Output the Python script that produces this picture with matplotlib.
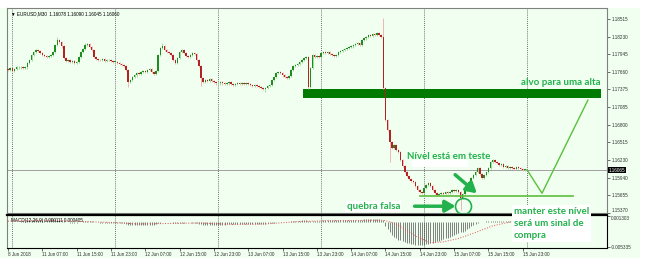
import numpy as np
import matplotlib
matplotlib.use('Agg')
import matplotlib.pyplot as plt
from matplotlib.patches import Rectangle

# EURUSD M30 closes, 8 Jun 23:00 -> 15 Jun 23:30
first_open = 1.1770
closes = [
    1.1769, 1.1772, 1.1767, 1.1770, 1.1773, 1.1773,
    1.1773, 1.1772, 1.1773, 1.1780, 1.1785,
    1.1793, 1.1798, 1.1801, 1.1799, 1.1796,
    1.1793, 1.1791, 1.1790, 1.1791, 1.1793,
    1.1798, 1.1809, 1.1817,
    1.1814, 1.1807, 1.1788,
    1.1783, 1.1785, 1.1782, 1.1783, 1.1780, 1.1782,
    1.1790, 1.1798, 1.1803, 1.1809,
    1.1811, 1.1806, 1.1801,
    1.1790, 1.1786, 1.1785,
    1.1785, 1.1786, 1.1783, 1.1785, 1.1785, 1.1783, 1.1782, 1.1782,
    1.1780, 1.1778, 1.1777, 1.1775, 1.1769,
    1.1749, 1.1752,
    1.1757, 1.1760, 1.1764, 1.1762, 1.1765,
    1.1767, 1.1765, 1.1769, 1.1770, 1.1765, 1.1762, 1.1767,
    1.1793, 1.1804, 1.1807,
    1.1801, 1.1798, 1.1796, 1.1793, 1.1785,
    1.1780, 1.1788, 1.1798,
    1.1801, 1.1796, 1.1791, 1.1790,
    1.1793, 1.1796, 1.1795,
    1.1785, 1.1775, 1.1756,
    1.1749, 1.1752, 1.1751, 1.1754,
    1.1751, 1.1749, 1.1747, 1.1747, 1.1749, 1.1747,
    1.1746, 1.1747, 1.1749, 1.1746, 1.1744, 1.1746, 1.1747, 1.1746, 1.1747, 1.1746,
    1.1747, 1.1746, 1.1744, 1.1743, 1.1744,
    1.1743, 1.1741, 1.1739, 1.1738, 1.1739,
    1.1743, 1.1744, 1.1752, 1.1757,
    1.1764, 1.1765, 1.1764, 1.1760, 1.1757,
    1.1756, 1.1759, 1.1769, 1.1775,
    1.1777, 1.1778, 1.1782, 1.1785, 1.1788, 1.1790,
    1.1741,
    1.1772, 1.1793, 1.1790,
    1.1791, 1.1790, 1.1796, 1.1798, 1.1796, 1.1798,
    1.1795, 1.1793, 1.1791, 1.1793, 1.1798, 1.1799,
    1.1801, 1.1803, 1.1804, 1.1806, 1.1807,
    1.1809, 1.1811, 1.1812, 1.1809, 1.1817,
    1.1820, 1.1822, 1.1825, 1.1824, 1.1827,
    1.1825, 1.1829, 1.1825, 1.1822,
    1.1739,
    1.1688, 1.1671, 1.1652,
    1.1642, 1.1647, 1.1639, 1.1636,
    1.1623, 1.1613, 1.1603, 1.1597,
    1.1592, 1.1589, 1.1587, 1.1581,
    1.1574, 1.1571, 1.1569,
    1.1577, 1.1582, 1.1586, 1.1581,
    1.1574, 1.1569, 1.1566, 1.1568,
    1.1569, 1.1568, 1.1571, 1.1569, 1.1571,
    1.1574, 1.1573, 1.1574,
    1.1571, 1.1561, 1.1568,
    1.1574, 1.1581, 1.1587, 1.1594,
    1.1598, 1.1603, 1.1610,
    1.1600, 1.1594, 1.1598,
    1.1603, 1.1610, 1.1620, 1.1623,
    1.1620, 1.1618, 1.1615, 1.1616,
    1.1611, 1.1613, 1.1610, 1.1611,
    1.1610, 1.1608, 1.1611, 1.1610,
    1.1608, 1.1607, 1.1607,
]
# long shadows that stick out
spike_high = {23: 1.1822, 36: 1.1813, 72: 1.1812, 175: 1.1853}
spike_low = {56: 1.1741, 90: 1.1743, 120: 1.1733, 140: 1.1738, 178: 1.1620, 211: 1.1542}

# MACD main (x1e-4) per bar, and signal line points
macd_hist = [
    1, 1, 0, 0, 1, 1, 2, 2, 3, 3, 4,
    4, 5, 5, 5, 4, 4, 4, 5, 5, 6, 6, 6, 5, 4, 3,
    2, 1, 0, -1, -1, -1, -1, 0, 1, 2, 3, 3, 3, 2, 1,
    0, 0, -1, -1, -1, -1, -1, -1, -2, -2, -2, -2, -2, -3, -4, -6, -7, -7, -7, -7,
    -7, -7, -7, -7, -6, -6, -6, -6, -5, -3, -1, 0, 1, 1, 1, 0, -1, -2, -2, -2,
    -1, -1, 0, 0, 0, -1, -2, -3, -4, -5, -6, -6, -6, -6, -6, -6, -6, -6, -6, -6,
    -6, -5, -5, -5, -5, -4, -4, -4, -4, -4, -4, -4, -4, -4, -4, -4, -4, -4, -4, -4,
    -3, -3, -2, -1, 0, 0, 1, 1, 1, 1, 1, 2, 2, 3, 3, 3, 4, 4, 4, 3,
    3, 3, 3, 3, 3, 3, 4, 4, 4, 4, 4, 4, 4, 4, 4, 5, 5, 5, 5, 5, 5, 5, 5, 5, 5,
    6, 6, 6, 6, 6, 6, 6, 6, 5, 4,
    -8, -15, -22, -27, -31, -34, -37, -39, -41, -43,
    -44, -45, -46, -47, -48, -48, -49, -49, -48, -47,
    -46, -45, -44, -43, -41, -40, -38, -36, -34, -33,
    -31, -29, -27, -25, -23, -21, -20, -18, -15, -12,
    -9, -6, -4, -2, 0, 1, 1, 2, 2, 3,
    3, 3, 3, 3, 2, 2, 2, 2, 2, 1, 1, 1, 1, 1, 1, 1,
]
signal_bar = [0, 20, 35, 50, 60, 75, 90, 105, 120, 135, 150, 175, 180, 185, 190, 197, 203, 210, 218, 226, 234, 241]
signal_val = [2, 4, 1, -1, -4, -3, -2, -5, -4, 1, 3, 4, -2, -15, -30, -44, -42, -35, -22, -8, 0, 2]

price_ticks = [1.18515, 1.18230, 1.17945, 1.17660, 1.17375, 1.17085,
               1.16800, 1.16515, 1.16230, 1.15940, 1.15655, 1.15370]
last_price = 1.16065
day_starts = [2, 50, 98, 146, 194, 242]
date_pos = [0, 16, 32, 48, 64, 80, 96, 112, 128, 144, 160, 176, 192, 208, 224, 240]
date_labels = ['8 Jun 2018', '11 Jun 07:00', '11 Jun 15:00', '11 Jun 23:00',
               '12 Jun 07:00', '12 Jun 15:00', '12 Jun 23:00', '13 Jun 07:00',
               '13 Jun 15:00', '13 Jun 23:00', '14 Jun 07:00', '14 Jun 15:00',
               '14 Jun 23:00', '15 Jun 07:00', '15 Jun 15:00', '15 Jun 23:00']

BG = '#f0fff0'
GREEN = '#22b14c'
small = dict(fontsize=3.3, family='Liberation Sans')
note = dict(fontsize=7, family='Lato', fontweight='bold', color=GREEN)

fig = plt.figure(figsize=(6.55, 2.65), dpi=100)
fig.patch.set_facecolor('white')
fig.add_artist(Rectangle((0, 7/265), 640/655, 250/265, transform=fig.transFigure,
                         facecolor=BG, edgecolor='none', zorder=-5))

ax = fig.add_axes([7/655, 52/265, 600/655, 205/265])
mx = fig.add_axes([7/655, 17/265, 600/655, 33/265])
for a in (ax, mx):
    a.set_facecolor(BG)
    a.set_xlim(-0.47, 279.3)
    for d in day_starts:
        a.axvline(d, color='#404040', ls=(0, (1, 1.5)), lw=0.6, zorder=1)

# candles
c = np.array(closes)
o = np.array([first_open] + closes[:-1])
x = np.arange(len(c))
hi = np.maximum(o, c) + 0.00018
lo = np.minimum(o, c) - 0.00018
for k, v in spike_high.items():
    hi[k] = v
for k, v in spike_low.items():
    lo[k] = v
up = c >= o
body_b = np.minimum(o, c)
body_h = np.maximum(np.abs(c - o), 0.00008)
ax.vlines(x[up], lo[up], hi[up], color='#94d494', lw=0.6, zorder=3)
ax.vlines(x[~up], lo[~up], hi[~up], color='#f2aaaa', lw=0.6, zorder=3)
ax.bar(x[up], body_h[up], bottom=body_b[up], width=0.7, color='#1e8c1e', lw=0, zorder=4)
ax.bar(x[~up], body_h[~up], bottom=body_b[~up], width=0.7, color='#b22222', lw=0, zorder=4)

ax.set_ylim(1.15370, 1.18693)
ax.axhline(last_price, color='#a0a0a0', lw=0.7, zorder=2)
ax.yaxis.tick_right()
ax.set_yticks(price_ticks)
ax.set_yticklabels(['%.5f' % p for p in price_ticks], **small)
ax.get_yticklabels()[-1].set_va('bottom')
ax.tick_params(axis='y', length=2, width=0.5, pad=1.5, colors='#303030')
ax.tick_params(axis='x', bottom=False, labelbottom=False)
for s in ax.spines.values():
    s.set_color('#808080')
    s.set_linewidth(0.8)
ax.text(1.003, last_price, '1.16065', transform=ax.get_yaxis_transform(), color='white',
        va='center', ha='left', clip_on=False, zorder=10,
        bbox=dict(boxstyle='square,pad=0.15', fc='black', ec='none'), **small)
ax.text(0.006, 0.985, '\u25bc EURUSD,M30  1.16078 1.16090 1.16045 1.16060',
        transform=ax.transAxes, va='top', **small)

# annotations
ax.add_patch(Rectangle((137.5, 1.1723), 139, 0.0015, facecolor='#007a00', edgecolor='none', zorder=2))
ax.text(239.2, 1.1749, 'alvo para uma alta', va='center', ha='left', zorder=8, **note)
ax.add_patch(Rectangle((188.3, 1.1611), 26, 0.0012, facecolor='white', edgecolor='none', zorder=6))
ax.text(186, 1.1629, 'Nível está em teste', va='center', ha='left', zorder=8, **note)
ax.text(158, 1.1548, 'quebra falsa', va='center', ha='left', zorder=8,
        bbox=dict(boxstyle='square,pad=0.1', fc='white', ec='none'), **note)
ax.annotate('', xy=(210, 1.1548), xytext=(188.3, 1.1548), zorder=8,
            arrowprops=dict(arrowstyle='-|>,head_length=0.6,head_width=0.35', color=GREEN, lw=2.5))
ax.plot([212.1], [1.1548], marker='o', ms=11.5, mfc='none', mec=GREEN, mew=1.2, zorder=8)
ax.annotate('', xy=(219.6, 1.1566), xytext=(207.5, 1.1602), zorder=8,
            arrowprops=dict(arrowstyle='-|>,head_length=0.6,head_width=0.35', color=GREEN, lw=2.5))
ax.plot([192, 263.4], [1.1564, 1.1564], color='#5cbf3c', lw=1.2, zorder=7)
ax.plot([242, 249, 270.4], [1.1607, 1.1569, 1.1720], color='#5cbf3c', lw=1.0, zorder=7)

# MACD panel
h = np.array(macd_hist) * 1e-4
mx.vlines(x, 0, h, color='#505050', lw=0.5, zorder=3)
mx.plot(signal_bar, np.array(signal_val) * 1e-4, color='#e05050', ls=':', lw=0.7, zorder=4)
mx.set_ylim(-0.0055, 0.0015)
mx.yaxis.tick_right()
mx.set_yticks([0.001303, -0.005335])
mx.set_yticklabels(['0.001303', '-0.005335'], **small)
mx.get_yticklabels()[0].set_va('top')
mx.set_xticks(date_pos)
mx.set_xticklabels(date_labels, ha='left', **small)
mx.tick_params(length=2, width=0.5, pad=1, colors='#303030')
mx.spines['top'].set_color('black')
mx.spines['top'].set_linewidth(1.6)
mx.spines['bottom'].set_color('black')
mx.spines['left'].set_color('#808080')
mx.spines['right'].set_color('black')
mx.text(0.006, 0.9, 'MACD(12,26,9) 0.000111 0.000405', transform=mx.transAxes, va='top', **small)

fig.text(514/655, 1 - 207/265, 'manter este nível\nserá um sinal de\ncompra', va='top', ha='left',
         linespacing=1.45, zorder=20,
         bbox=dict(boxstyle='square,pad=0.2', fc='white', ec='none'), **note)

fig.savefig('out.png', dpi=100, facecolor=fig.get_facecolor())
